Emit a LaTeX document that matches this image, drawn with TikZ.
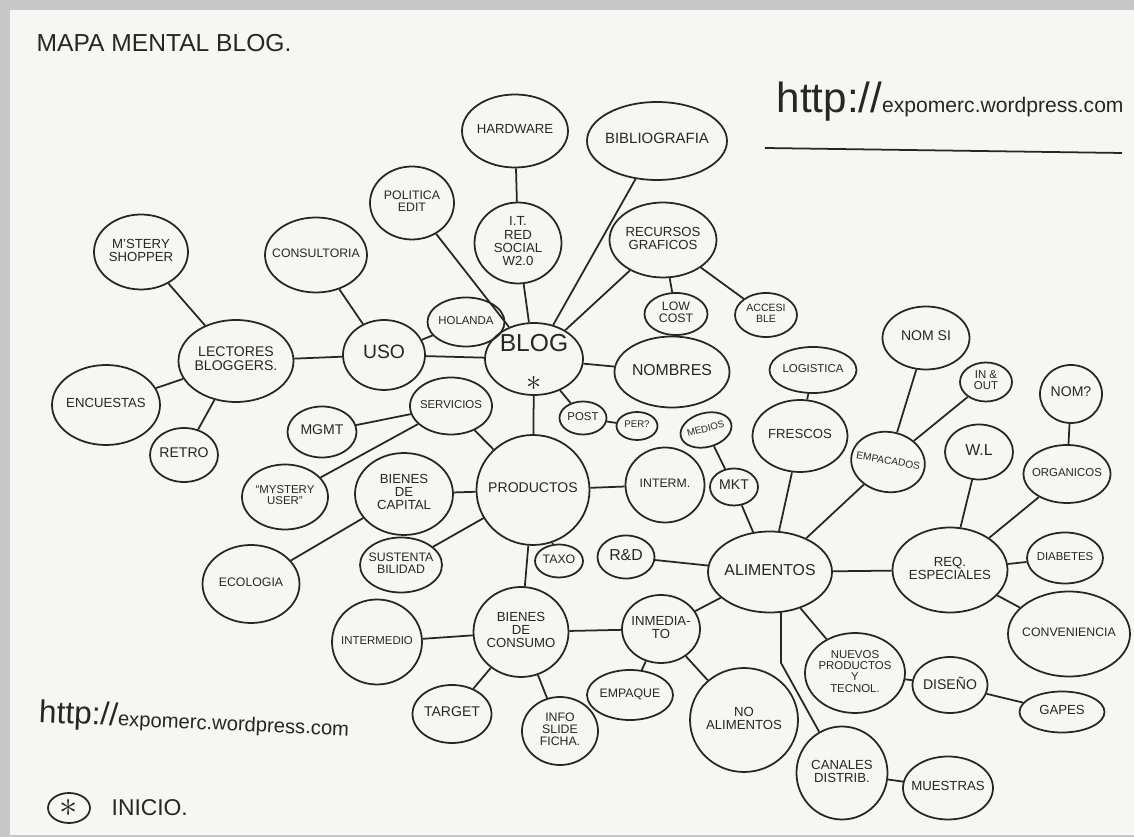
\documentclass[tikz,border=0pt]{standalone}
\usepackage{fontspec}
\setmainfont{Liberation Sans}
\usepackage{tikz}
\usetikzlibrary{shapes.geometric,positioning}
\definecolor{ink}{RGB}{38,38,38}
\definecolor{paper}{RGB}{246,246,242}
\definecolor{edge}{RGB}{200,200,200}
\newcommand{\tx}[1]{\makebox[0pt]{\begin{tabular}{@{}c@{}}#1\end{tabular}}}

\begin{document}
\begin{tikzpicture}[x=0.02cm,y=-0.02cm,line width=1pt,color=ink,
	bub/.style={ellipse,draw,inner sep=0pt,font=\fontsize{8}{8}\selectfont},
	sz/.style 2 args={minimum width=#1*0.02cm,minimum height=#2*0.02cm},
	fs/.style={font=\fontsize{#1}{#1}\selectfont}]
	\useasboundingbox (0,0) rectangle (1134,837);
	\fill[edge] (0,0) rectangle (1134,837);
	\fill[paper] (10,10) rectangle (1134,835);

	\node[anchor=base west,fs=14] (title) at (30,52) {MAPA MENTAL BLOG.};
	\node[anchor=base west] (url) at (770,113) {{\fontsize{24}{24}\selectfont http://}{\fontsize{12}{12}\selectfont expomerc.wordpress.com}};
	\draw (765,148) -- (1122,153);
	\node[anchor=base west,rotate=-2.5] (urlb) at (32,722) {{\fontsize{18}{18}\selectfont http://}{\fontsize{11.5}{11.5}\selectfont expomerc.wordpress.com}};
	\node[bub,sz={42}{30}] (ini) at (69,808) {\raisebox{-5pt}[0pt][0pt]{\fontsize{20}{20}\selectfont$\ast$}};
	\node[right=8pt of ini,fs=13] (inicio) {INICIO.};

	\node[bub,sz={106}{73},fs=7.5] (hw) at (515,131) {\tx{HARDWARE}};
	\node[bub,sz={140}{78},fs=8.5] (bib) at (657,141) {\tx{BIBLIOGRAFIA}};
	\node[bub,sz={84}{73},fs=7] (pol) at (412,203) {\tx{POLITICA\\EDIT}};
	\node[bub,sz={87}{81},fs=7.5] (it) at (518,243) {\tx{I.T.\\RED\\SOCIAL\\W2.0}};
	\node[bub,sz={107}{75},fs=7.5] (rec) at (663,240) {\tx{RECURSOS\\GRAFICOS}};
	\node[bub,sz={63}{42},fs=7] (low) at (676,314) {\tx{LOW\\COST}};
	\node[bub,sz={62}{44},fs=6] (acc) at (766,315) {\tx{ACCESI\\BLE}};
	\node[bub,sz={77}{49},fs=6.5] (hol) at (466,322) {\tx{HOLANDA}};
	\node[bub,sz={98}{72},fs=14] (blog) at (534,359) {\tx{BLOG\\\raisebox{-8pt}[0pt][0pt]{\fontsize{17}{17}\selectfont$\ast$}}};
	\node[bub,sz={115}{71},fs=9] (nom) at (672,372) {\tx{NOMBRES}};
	\node[bub,sz={82}{70},fs=11] (uso) at (384,355) {\tx{USO}};
	\node[bub,sz={102}{75},fs=7] (cons) at (316,255) {\tx{CONSULTORIA}};
	\node[bub,sz={115}{82},fs=8] (lect) at (236,361) {\tx{LECTORES\\BLOGGERS.}};
	\node[bub,sz={94}{75},fs=7.5] (shop) at (141,252) {\tx{M'STERY\\SHOPPER}};
	\node[bub,sz={108}{80},fs=7.5] (enc) at (106,405) {\tx{ENCUESTAS}};
	\node[bub,sz={68}{54},fs=8] (ret) at (184,455) {\tx{RETRO}};
	\node[bub,sz={69}{51},fs=8] (mgmt) at (322,432) {\tx{MGMT}};
	\node[bub,sz={82}{57},fs=6.5] (serv) at (451,406) {\tx{SERVICIOS}};
	\node[bub,sz={86}{65},fs=6.5] (myst) at (285,497) {\tx{“MYSTERY\\USER”}};
	\node[bub,sz={98}{82},fs=7.5] (bcap) at (404,494) {\tx{BIENES\\DE\\CAPITAL}};
	\node[bub,sz={113}{110},fs=8] (prod) at (533,490) {\tx{PRODUCTOS}};
	\node[bub,sz={47}{33},fs=6.5] (post) at (583,418) {\tx{POST}};
	\node[bub,sz={41}{28},fs=5.5] (per) at (637,426) {\tx{PER?}};
	\node[bub,sz={52}{34},fs=5.5,rotate=15] (med) at (706,430) {\tx{MEDIOS}};
	\node[bub,sz={79}{75},fs=7] (interm) at (665,485) {\tx{INTERM.}};
	\node[bub,sz={48}{37},fs=8] (mkt) at (734,487) {\tx{MKT}};
	\node[bub,sz={95}{72},fs=7.5] (fres) at (800,436) {\tx{FRESCOS}};
	\node[bub,sz={87}{46},fs=6.5] (logi) at (813,370) {\tx{LOGISTICA}};
	\node[bub,sz={87}{63},fs=8] (nomsi) at (926,338) {\tx{NOM SI}};
	\node[bub,sz={52}{39},fs=6.5] (inout) at (986,382) {\tx{IN \&\\OUT}};
	\node[bub,sz={74}{60},fs=5.8,rotate=-10] (emp) at (888,462) {\tx{EMPACADOS}};
	\node[bub,sz={68}{55},fs=9] (wl) at (979,452) {\tx{W.L}};
	\node[bub,sz={62}{58},fs=8] (nomq) at (1071,394) {\tx{NOM?}};
	\node[bub,sz={87}{58},fs=6.5] (org) at (1067,474) {\tx{ORGANICOS}};
	\node[bub,sz={115}{85},fs=7.5] (req) at (950,570) {\tx{REQ.\\ESPECIALES}};
	\node[bub,sz={76}{51},fs=6.5] (diab) at (1065,558) {\tx{DIABETES}};
	\node[bub,sz={122}{85},fs=7] (conv) at (1069,634) {\tx{CONVENIENCIA}};
	\node[bub,sz={124}{81},fs=9] (alim) at (770,572) {\tx{ALIMENTOS}};
	\node[bub,sz={57}{43},fs=9] (rd) at (626,557) {\tx{R\&D}};
	\node[bub,sz={48}{33},fs=7] (taxo) at (559,561) {\tx{TAXO}};
	\node[bub,sz={82}{55},fs=7] (sust) at (401,565) {\tx{SUSTENTA\\BILIDAD}};
	\node[bub,sz={97}{78},fs=7] (eco) at (251,584) {\tx{ECOLOGIA}};
	\node[bub,sz={90}{85},fs=6.5] (intmed) at (377,642) {\tx{INTERMEDIO}};
	\node[bub,sz={95}{90},fs=7.5] (bcons) at (521,632) {\tx{BIENES\\DE\\CONSUMO}};
	\node[bub,sz={79}{58},fs=8] (targ) at (452,714) {\tx{TARGET}};
	\node[bub,sz={76}{68},fs=7] (info) at (560,731) {\tx{INFO\\SLIDE\\FICHA.}};
	\node[bub,sz={78}{68},fs=7.5] (inm) at (661,629) {\tx{INMEDIA-\\TO}};
	\node[bub,sz={86}{50},fs=7] (empq) at (630,695) {\tx{EMPAQUE}};
	\node[bub,sz={108}{104},fs=7.5] (noal) at (744,720) {\tx{NO\\ALIMENTOS}};
	\node[bub,sz={100}{80},fs=6.5] (nuev) at (855,673) {\tx{NUEVOS\\PRODUCTOS\\Y\\TECNOL.}};
	\node[bub,sz={75}{56},fs=8] (dis) at (950,685) {\tx{DISEÑO}};
	\node[bub,sz={85}{41},fs=7.5] (gap) at (1062,712) {\tx{GAPES}};
	\node[bub,sz={91}{93},fs=7.5] (can) at (842,773) {\tx{CANALES\\DISTRIB.}};
	\node[bub,sz={90}{63},fs=7.5] (mue) at (948,788) {\tx{MUESTRAS}};

	\draw (hw) -- (it) (it) -- (blog) (pol) -- (blog) (bib) -- (blog);
	\draw (rec) -- (blog) (rec) -- (low) (rec) -- (acc);
	\draw (hol) -- (uso) (uso) -- (blog) (blog) -- (nom) (cons) -- (uso);
	\draw (uso) -- (lect) (lect) -- (shop) (lect) -- (enc) (lect) -- (ret);
	\draw (blog) -- (post) (post) -- (per) (blog) -- (prod);
	\draw (serv) -- (prod) (serv) -- (mgmt) (serv) -- (myst);
	\draw (prod) -- (bcap) (bcap) -- (eco) (prod) -- (sust) (prod) -- (interm) (prod) -- (taxo);
	\draw (prod) -- (bcons) (bcons) -- (intmed) (bcons) -- (targ) (bcons) -- (info) (bcons) -- (inm);
	\draw (inm) -- (empq) (inm) -- (noal) (inm) -- (alim);
	\draw (med) -- (mkt) (mkt) -- (alim) (rd) -- (alim);
	\draw (alim) -- (fres) (fres) -- (logi) (alim) -- (emp) (emp) -- (nomsi) (emp) -- (inout);
	\draw (alim) -- (req) (req) -- (wl) (req) -- (org) (org) -- (nomq) (req) -- (diab) (req) -- (conv);
	\draw (alim) -- (nuev) (nuev) -- (dis) (dis) -- (gap);
	\draw (alim.285) -- ++(0,50) -- (can);
	\draw (can) -- (mue);
\end{tikzpicture}
\end{document}
